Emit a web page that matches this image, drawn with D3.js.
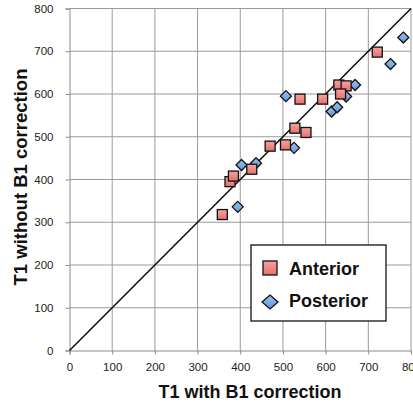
<!DOCTYPE html>
<html>
<head>
<meta charset="utf-8">
<script src="https://cdn.jsdelivr.net/npm/d3@7"></script>
<style>
  body { margin: 0; background: #fff; }
  text { font-family: "Liberation Sans", Arial, sans-serif; }
</style>
</head>
<body>
<div class="container"></div>
<script>
const WIDTH = 413;
const HEIGHT = 404;
const X0 = 69.5, X1 = 411;
const Y0 = 350.5, Y1 = 8.5;

// T1 with B1 correction (x) and without (y)
var anteriorX = [358, 376, 384, 427, 470, 506, 528, 554, 540, 593, 631, 648, 635, 721];
var anteriorY = [318, 395, 408, 424, 478, 481, 520, 510, 588, 588, 621, 619, 600, 698];
var posteriorX = [394, 403, 437, 526, 507, 614, 627, 648, 669, 752, 782];
var posteriorY = [336, 434, 438, 474, 595, 559, 569, 594, 621, 670, 732];
var ticks = [0, 100, 200, 300, 400, 500, 600, 700, 800];

var xScale = d3.scaleLinear().domain([0, 800]).range([X0, X1]);
var yScale = d3.scaleLinear().domain([0, 800]).range([Y0, Y1]);

var svg = d3.select('.container').append('svg')
    .attr('width', WIDTH)
    .attr('height', HEIGHT);

var defs = svg.append('defs');
var redGrad = defs.append('linearGradient').attr('id', 'red').attr('x1', 0).attr('y1', 0).attr('x2', 0).attr('y2', 1);
redGrad.append('stop').attr('offset', '0%').attr('stop-color', '#f4a3a0');
redGrad.append('stop').attr('offset', '100%').attr('stop-color', '#e8706c');
var blueGrad = defs.append('linearGradient').attr('id', 'blue').attr('x1', 0).attr('y1', 0).attr('x2', 0).attr('y2', 1);
blueGrad.append('stop').attr('offset', '0%').attr('stop-color', '#9cc3ee');
blueGrad.append('stop').attr('offset', '100%').attr('stop-color', '#5d97dc');

// grid
var grid = svg.append('g');
grid.selectAll('.vg').data(ticks.slice(1)).enter().append('line')
    .attr('x1', d => xScale(d)).attr('x2', d => xScale(d))
    .attr('y1', Y0).attr('y2', Y1)
    .attr('stroke', '#9a9a9a').attr('stroke-width', 1);
grid.selectAll('.hg').data(ticks.slice(1)).enter().append('line')
    .attr('y1', d => yScale(d)).attr('y2', d => yScale(d))
    .attr('x1', X0).attr('x2', X1)
    .attr('stroke', '#9a9a9a').attr('stroke-width', 1);

var xAxis = d3.axisBottom(xScale).tickValues(ticks).tickSize(4).tickPadding(8);
var yAxis = d3.axisLeft(yScale).tickValues(ticks).tickSize(4).tickPadding(12);

var gx = svg.append('g').attr('transform', 'translate(0,' + Y0 + ')').call(xAxis);
var gy = svg.append('g').attr('transform', 'translate(' + X0 + ',0)').call(yAxis);
[gx, gy].forEach(function (g) {
    g.select('.domain').attr('stroke', '#8a8a8a');
    g.selectAll('.tick line').attr('stroke', '#8a8a8a');
    g.selectAll('.tick text').attr('fill', '#222').style('font-size', '11.5px')
        .style('font-family', '"Liberation Sans", Arial, sans-serif');
});

// identity line
svg.append('line')
    .attr('x1', xScale(0)).attr('y1', yScale(0))
    .attr('x2', xScale(800)).attr('y2', yScale(800))
    .attr('stroke', '#111').attr('stroke-width', 1.6);

var posterior = posteriorX.map((x, i) => ({x: x, y: posteriorY[i]}));
var anterior = anteriorX.map((x, i) => ({x: x, y: anteriorY[i]}));

svg.append('g').selectAll('path').data(posterior).enter().append('path')
    .attr('d', 'M0,-5.5L5.5,0L0,5.5L-5.5,0Z')
    .attr('transform', d => 'translate(' + xScale(d.x) + ',' + yScale(d.y) + ')')
    .attr('fill', 'url(#blue)').attr('stroke', '#111').attr('stroke-width', 1.3);

svg.append('g').selectAll('rect').data(anterior).enter().append('rect')
    .attr('x', d => xScale(d.x) - 5).attr('y', d => yScale(d.y) - 5)
    .attr('width', 10).attr('height', 10)
    .attr('fill', 'url(#red)').attr('stroke', '#111').attr('stroke-width', 1.3);

// legend
var legend = svg.append('g').attr('transform', 'translate(251,245)');
legend.append('rect').attr('width', 135).attr('height', 76)
    .attr('fill', '#fff').attr('stroke', '#111').attr('stroke-width', 1.3);
legend.append('rect').attr('x', 12).attr('y', 16).attr('width', 14).attr('height', 14)
    .attr('fill', 'url(#red)').attr('stroke', '#111').attr('stroke-width', 1.3);
legend.append('path').attr('d', 'M19,50L27,57L19,64L11,57Z')
    .attr('fill', 'url(#blue)').attr('stroke', '#111').attr('stroke-width', 1.3);
legend.append('text').attr('x', 38).attr('y', 30).text('Anterior')
    .style('font-size', '18px').style('font-weight', 'bold').attr('fill', '#111');
legend.append('text').attr('x', 38).attr('y', 62).text('Posterior')
    .style('font-size', '18px').style('font-weight', 'bold').attr('fill', '#111');

// axis titles
svg.append('text').attr('x', 250).attr('y', 398).attr('text-anchor', 'middle')
    .text('T1 with B1 correction')
    .style('font-size', '18px').style('font-weight', 'bold').attr('fill', '#111');
svg.append('text').attr('transform', 'translate(27,177) rotate(-90)')
    .attr('text-anchor', 'middle')
    .text('T1 without B1 correction')
    .style('font-size', '18.5px').style('font-weight', 'bold').attr('fill', '#111');
</script>
</body>
</html>
